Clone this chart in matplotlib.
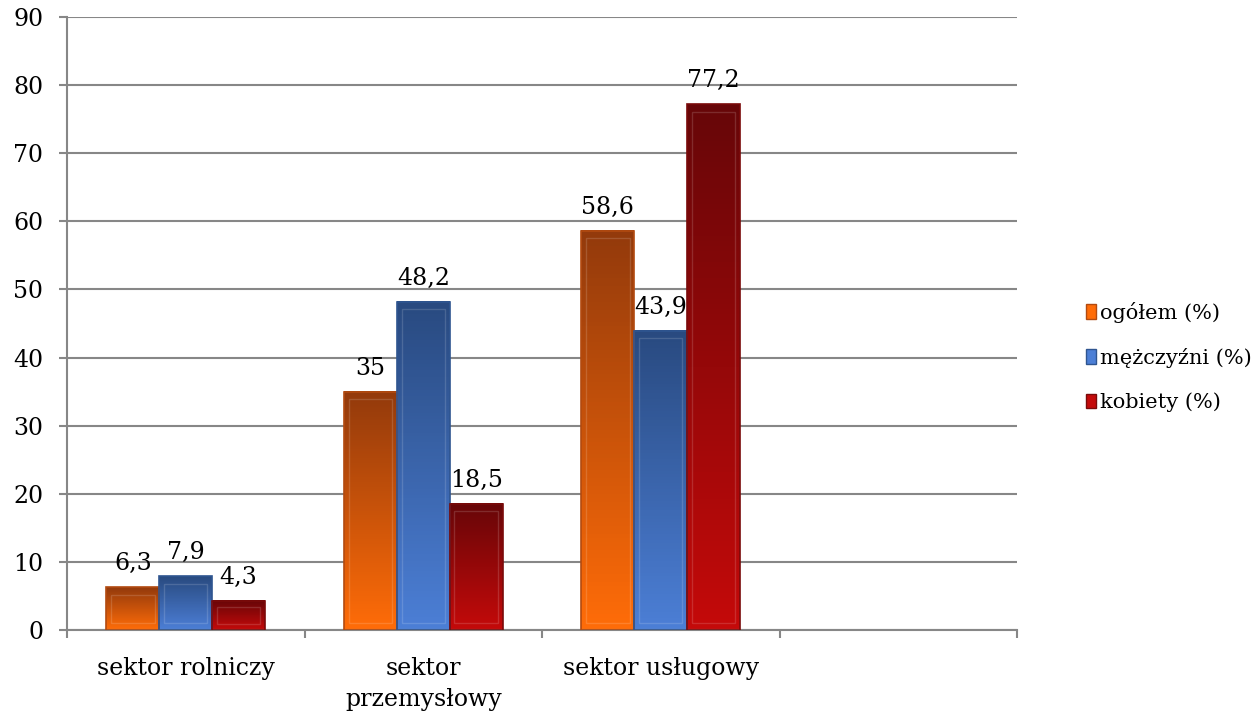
import numpy as np
import matplotlib as mpl
import matplotlib.pyplot as plt
from matplotlib.colors import LinearSegmentedColormap
from matplotlib.patches import Rectangle

plt.rc('font', family='DejaVu Serif', size=17)

categories = ['sektor rolniczy', 'sektor\nprzemysłowy', 'sektor usługowy', '']
series = ['ogółem (%)', 'mężczyźni (%)', 'kobiety (%)']
ogolem = [6.3, 35, 58.6]
mezczyzni = [7.9, 48.2, 43.9]
kobiety = [4.3, 18.5, 77.2]
labels = [['6,3', '35', '58,6'], ['7,9', '48,2', '43,9'], ['4,3', '18,5', '77,2']]

# (top colour, bottom colour, edge) for each series
grad = [('#933a0c', '#ff6c08', '#b24a10'),
        ('#294a80', '#4c7fd6', '#2f5590'),
        ('#670608', '#c40a0a', '#7a0a0a')]

fig = plt.figure(figsize=(12.57, 7.13), dpi=100)
ax = fig.add_axes([67/1257, 83/713, 950/1257, 613/713])

n = len(categories)
ax.set_xlim(0, n)
ax.set_ylim(0, 90)
ax.set_yticks(np.arange(0, 91, 10))
ax.yaxis.grid(True, color='#878787', lw=1.5)
ax.set_axisbelow(True)
for s in ['top', 'right']:
    ax.spines[s].set_visible(False)
for s in ['left', 'bottom']:
    ax.spines[s].set_color('#878787')
    ax.spines[s].set_linewidth(1.5)
ax.set_xticks(np.arange(0, n+1))
ax.set_xticklabels([])
ax.tick_params(axis='x', length=6, width=1.5, color='#878787')
ax.tick_params(axis='y', length=6, width=1.5, color='#878787', labelsize=17, pad=11)
for i, c in enumerate(categories):
    ax.text(i+0.5, -4.0, c, ha='center', va='top', fontsize=17, linespacing=1.42)

bw = 0.2225
data = [ogolem, mezczyzni, kobiety]
for k, vals in enumerate(data):
    top, bot, edge = grad[k]
    cm = LinearSegmentedColormap.from_list('g%d' % k, [bot, top])
    for i, v in enumerate(vals):
        x0 = i + 0.5 + (k-1.5)*bw
        g = np.linspace(0, 1, 100).reshape(-1, 1)
        ax.imshow(g, cmap=cm, origin='lower', aspect='auto', extent=[x0, x0+bw, 0, v],
                  zorder=2, vmin=0, vmax=1)
        ax.add_patch(Rectangle((x0, 0), bw, v, fill=False, ec=edge, lw=1.2, zorder=3))
        # inner bevel
        d = 0.02
        dy = min(1.1, v*0.2)
        ax.add_patch(Rectangle((x0+d, dy), bw-2*d, v-2*dy, fill=False, ec='white', alpha=0.15, lw=1, zorder=3))
        ax.text(x0+bw/2, v+2.5, labels[k][i], ha='center', va='baseline', fontsize=17)

ax.set_xlim(0, n)
ax.set_ylim(0, 90)

handles = [Rectangle((0, 0), 1, 1, fc=grad[k][1], ec=grad[k][2]) for k in range(3)]
fig.legend(handles, series, loc='center left', bbox_to_anchor=(1086/1257, 1-357/713),
           frameon=False, fontsize=15, labelspacing=1.2, handlelength=0.5, handleheight=0.7,
           handletextpad=0.15, borderaxespad=0, borderpad=0)

fig.savefig('out.png', dpi=100)
